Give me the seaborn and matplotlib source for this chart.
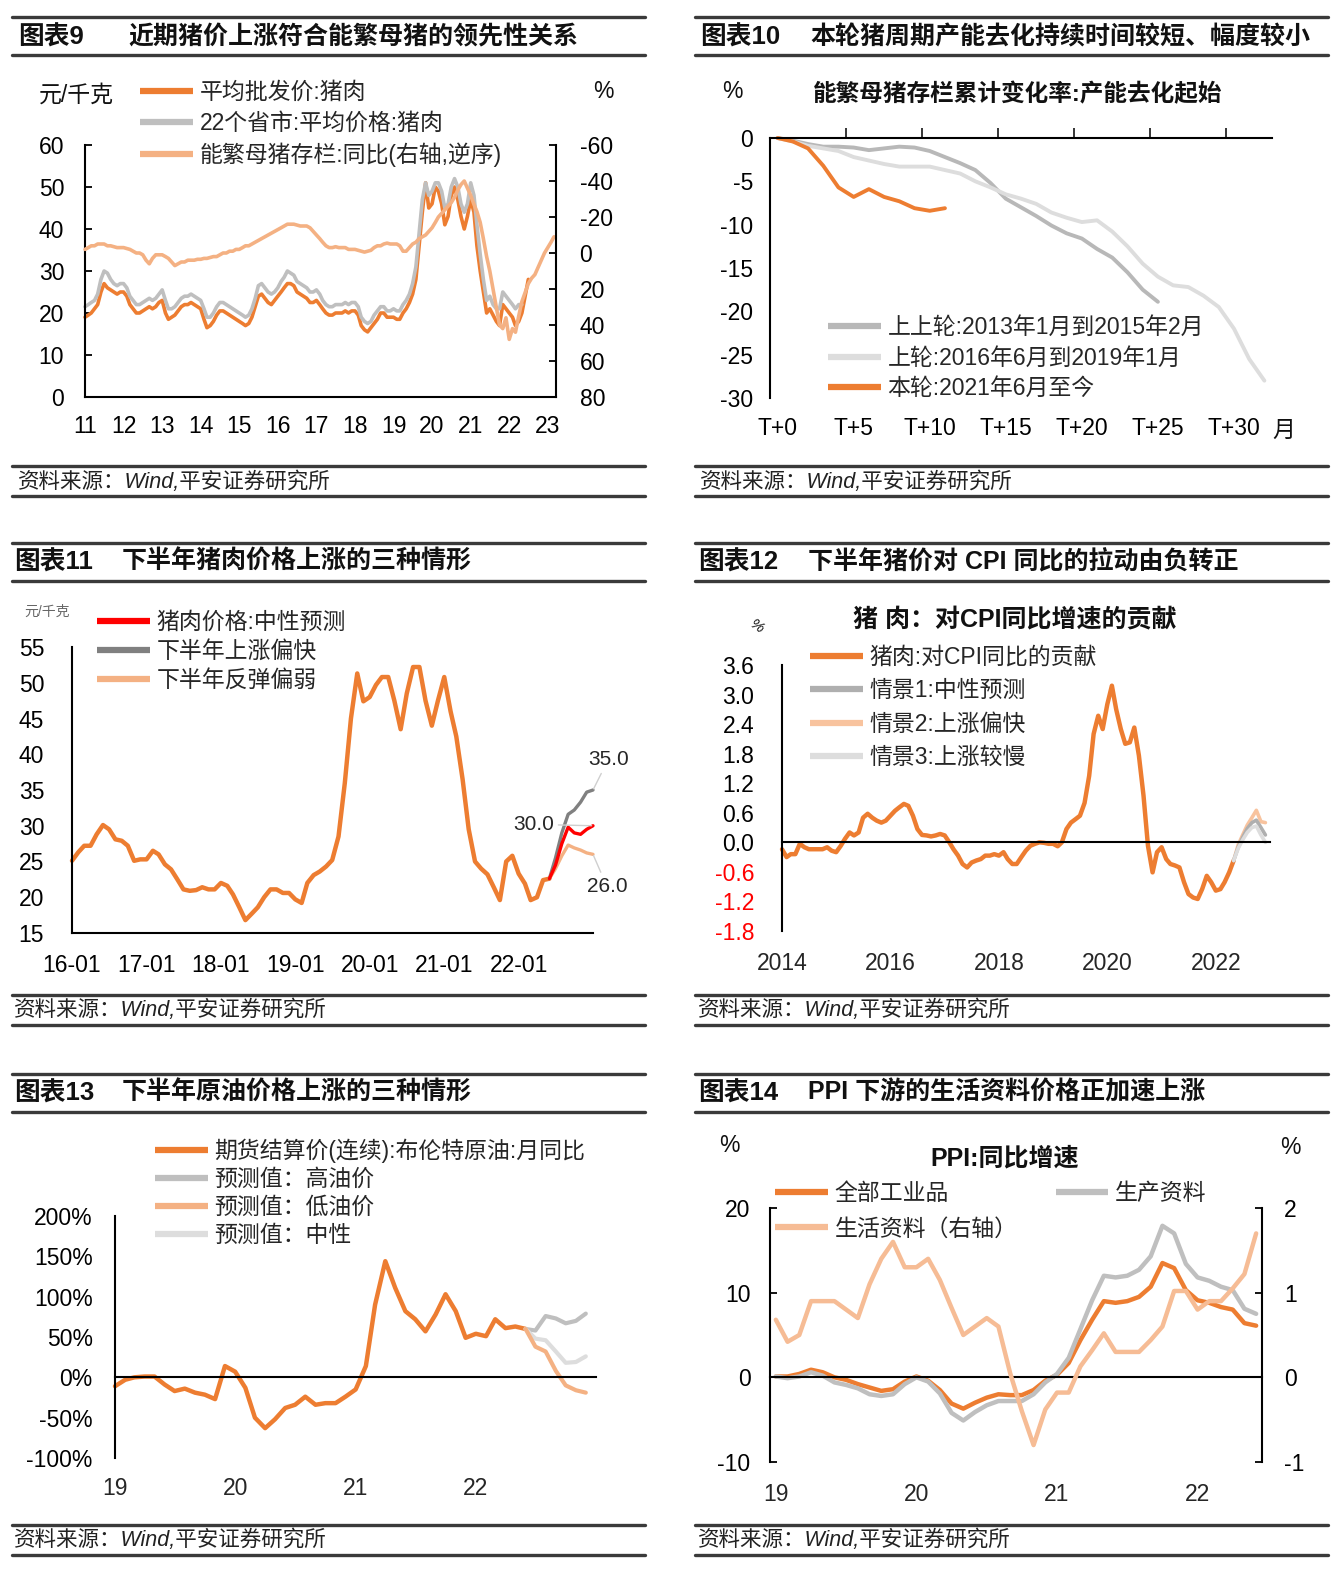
import matplotlib
matplotlib.use('Agg')
import matplotlib.pyplot as plt
import matplotlib.dates as mdates
from matplotlib.lines import Line2D
import numpy as np
import pandas as pd
import seaborn as sns

sns.set_style('white')
plt.rcParams['font.family'] = ['Liberation Sans', 'Noto Sans CJK SC']
plt.rcParams['axes.unicode_minus'] = False

ORANGE = '#ED7D31'
GRAY = '#BFBFBF'
DARK_GRAY = '#808080'
LIGHT_ORANGE = '#F4B183'
LIGHT_GRAY = '#DDDDDD'

# ---- chart 9: pork price vs sow inventory (monthly) ----
pork_wholesale = [  # 2011-01 .. 2022-07, yuan/kg
    19, 19.5, 20, 21, 22, 25, 27, 26, 25.5, 25, 24.5, 25,
    25, 24, 22, 21, 20, 20, 20.5, 21, 21.5, 21, 21.5, 22.5,
    23, 20, 18.5, 19, 19.5, 20.5, 21.5, 22, 22, 22.5, 22, 21.5,
    21, 18.5, 16.5, 17, 18, 19.5, 20.5, 20.5, 20, 19.5, 19, 18.5,
    18, 17.5, 17, 17.5, 19, 21.5, 24, 24.5, 23.5, 22.5, 22, 23,
    24, 25, 26, 27, 27, 26.5, 25, 24.5, 24, 23.5, 22.5, 22.5,
    23, 22, 21, 20, 19.5, 19.5, 20, 20, 20, 20.5, 20, 20.5,
    20.5, 19.5, 17, 16, 15.5, 16.5, 17.5, 18.5, 20, 20, 19, 19,
    19, 18.5, 18.5, 20, 21, 22.5, 24.5, 28, 36, 44, 51, 45,
    46, 50, 49, 46, 41, 43, 48, 50, 47, 43, 40, 43,
    47, 44, 36, 30, 25, 20, 21, 19.5, 18, 17, 22, 21,
    20, 19, 17, 18, 20, 24, 28]
pork_22_prov = [  # 2011-01 .. 2022-05
    21.5, 22, 22.5, 23, 24.5, 28, 30, 29.5, 28, 27, 26.5, 27,
    27, 26, 24, 23, 22, 22, 22.5, 23, 23.5, 23, 23.5, 24.5,
    25.5, 23, 21, 21, 21.5, 22.5, 23.5, 24, 24, 24.5, 24, 23.5,
    23, 21, 19, 19, 20, 21.5, 22.5, 22.5, 22, 21.5, 21, 20.5,
    20, 19.5, 19, 19.5, 21, 23.5, 26.5, 27, 26, 25, 24.5, 25,
    26, 27.5, 28.5, 30, 29.5, 29, 27.5, 27, 26.5, 26, 25, 25,
    25.5, 24.5, 23, 22, 21.5, 21.5, 22, 22, 22, 22.5, 22, 22.5,
    22.5, 21.5, 19, 18, 17.5, 18, 19.5, 20.5, 21.5, 21.5, 20.5, 20.5,
    21, 20.5, 20.5, 22, 23, 24.5, 27, 31, 39, 47, 51, 48,
    49, 51, 51, 49, 45, 46, 50, 52, 50, 46, 44, 46,
    51, 48, 41, 34, 28, 23, 24, 22, 21, 21, 25, 24,
    23, 22, 21, 22, 22]
sow_yoy = [  # 2011-01 .. 2023-03, %, right axis (inverted)
    -2, -3, -4, -4, -5, -5, -5, -4, -4, -3.5, -3, -3,
    -3, -2.5, -2, -1, 0, 0, 1, 4, 6, 3, 1, 1,
    1, 2, 3, 5, 7, 6, 5, 5, 4, 4, 4, 3.5,
    3.5, 3, 3, 2.5, 2, 2, 1, 0, 0, -1, -1, -2,
    -2, -3, -4, -4, -5, -6, -7, -8, -9, -10, -11, -12,
    -13, -14, -15, -16, -16, -16, -15.5, -15, -15, -15, -14, -12,
    -10, -8, -6, -4, -3, -3, -3.5, -3, -3, -3, -2, -2,
    -2, -1.5, -1, -0.5, -1, -1.5, -3, -4, -4, -5, -5.5, -5,
    -5, -5, -4, -1, -1, -3, -5, -6, -8, -9, -10, -12,
    -14, -17, -20, -22, -24, -26, -28, -31, -35, -38, -40, -36,
    -32, -27, -23, -17, -8, 2, 10, 20, 30, 40, 42, 36,
    48, 42, 44, 35, 27, 22, 17, 14, 12, 8, 4, 0,
    -3, -6, -9]

# ---- chart 10: cumulative change of sow inventory by cycle ----
round_prev2 = [0, -0.3, -0.7, -1.0, -1.0, -1.1, -1.4, -1.2, -1.0, -1.1, -1.5, -2.2, -2.9,
               -3.7, -5.2, -7.0, -8.0, -9.0, -10.1, -11.0, -11.6, -12.8, -13.8, -15.5,
               -17.5, -18.9]
round_prev1 = [0, -0.4, -0.9, -1.2, -1.5, -2.2, -2.6, -3.0, -3.3, -3.3, -3.3, -3.7, -4.1,
               -5.0, -5.7, -6.5, -7.0, -7.6, -8.6, -9.2, -9.7, -9.5, -10.8, -12.5, -14.5,
               -16.0, -17.0, -17.2, -18.2, -19.5, -22.0, -25.5, -28.0]
round_now = [0, -0.4, -1.2, -3.2, -5.7, -6.8, -5.9, -6.8, -7.3, -8.1, -8.4, -8.1]
t_labels = ['T+0', 'T+5', 'T+10', 'T+15', 'T+20', 'T+25', 'T+30']

# ---- chart 11: pork price scenarios ----
pork_hist = [  # 2016-01 .. 2022-06
    25.1, 26.3, 27.2, 27.2, 28.8, 30.1, 29.5, 28.1, 27.9, 27.2, 25.1, 25.3,
    25.3, 26.5, 26.0, 24.6, 23.9, 22.5, 21.1, 20.9, 21.0, 21.4, 21.1, 21.1,
    22.0, 21.6, 20.4, 18.6, 16.8, 17.7, 18.6, 20.0, 21.1, 21.1, 20.6, 20.6,
    19.7, 19.2, 22.0, 23.1, 23.6, 24.3, 25.2, 28.5, 36.0, 45.0, 51.3, 47.4,
    48.0, 49.7, 50.8, 50.8, 47.5, 43.5, 48.5, 52.2, 52.2, 47.5, 44.0, 47.5,
    50.8, 46.0, 42.5, 36.5, 29.5, 25.0, 24.0, 23.2, 21.4, 19.6, 25.0, 25.8,
    23.3, 21.9, 19.6, 20.0, 22.4, 22.6]
pork_fc_mid = [22.6, 24.5, 27.5, 29.8, 29.0, 28.8, 29.5, 30.0]   # 2022-06 .. 2023-01
pork_fc_fast = [22.6, 25.5, 29.0, 31.6, 32.2, 33.3, 34.7, 35.0]
pork_fc_weak = [22.6, 24.0, 25.8, 27.3, 26.9, 26.6, 26.2, 26.0]

# ---- chart 12: pork contribution to CPI yoy ----
cpi_pork = [  # 2014-01 .. 2022-05, pct pt
    -0.14, -0.3, -0.24, -0.24, -0.03, -0.1, -0.14, -0.14, -0.14, -0.14, -0.1, -0.17,
    -0.2, -0.07, 0.07, 0.2, 0.14, 0.2, 0.5, 0.58, 0.5, 0.44, 0.4, 0.44,
    0.54, 0.64, 0.71, 0.78, 0.74, 0.54, 0.27, 0.15, 0.14, 0.12, 0.14, 0.17,
    0.14, 0.0, -0.14, -0.27, -0.44, -0.51, -0.41, -0.37, -0.34, -0.27, -0.27, -0.24,
    -0.27, -0.2, -0.34, -0.44, -0.44, -0.3, -0.17, -0.07, -0.03, 0.0, -0.01, -0.03,
    -0.03, -0.08, 0.0, 0.27, 0.4, 0.47, 0.54, 0.8, 1.35, 2.2, 2.57, 2.3,
    2.8, 3.18, 2.7, 2.3, 2.0, 2.03, 2.33, 1.76, 0.95, -0.07, -0.61, -0.2,
    -0.1, -0.34, -0.44, -0.47, -0.51, -0.81, -1.05, -1.12, -1.15, -0.95, -0.68, -0.81,
    -0.98, -0.95, -0.81, -0.61, -0.37]
cpi_s1 = [-0.37, -0.1, 0.1, 0.28, 0.4, 0.45, 0.3, 0.15]   # 2022-05 .. 2022-12
cpi_s2 = [-0.37, -0.05, 0.15, 0.35, 0.5, 0.65, 0.42, 0.4]
cpi_s3 = [-0.37, -0.12, 0.05, 0.2, 0.3, 0.33, 0.15, 0.0]
cpi_yticks = [-1.8, -1.2, -0.6, 0.0, 0.6, 1.2, 1.8, 2.4, 3.0, 3.6]

# ---- chart 13: brent yoy ----
brent_yoy = [  # 2019-01 .. 2022-06, %
    -11, -3, 0, 1, 1, -9, -17, -14, -19, -21.5, -27, 14,
    7, -13, -50, -63, -52, -38, -34, -24, -34, -32, -32, -24,
    -15, 14, 90, 144, 111, 82, 72, 57, 78, 103, 82, 49,
    54, 51, 72, 61, 63, 60]
oil_high = [60, 58, 76, 73, 67, 70, 79]   # 2022-06 .. 2022-12
oil_low = [60, 38, 32, 8, -10, -16, -19]
oil_mid = [60, 48, 46, 32, 18, 19, 26]

# ---- chart 14: PPI yoy ----
ppi_all = [  # 2019-01 .. 2022-06
    0.1, 0.1, 0.4, 0.9, 0.6, 0.0, -0.3, -0.8, -1.2, -1.6, -1.4, -0.5,
    0.1, -0.4, -1.5, -3.1, -3.7, -3.0, -2.4, -2.0, -2.1, -2.1, -1.5, -0.4,
    0.3, 1.7, 4.4, 6.8, 9.0, 8.8, 9.0, 9.5, 10.7, 13.5, 12.9, 10.3,
    9.1, 8.8, 8.3, 8.0, 6.4, 6.1]
ppi_prod = [
    0.1, -0.1, 0.1, 0.6, 0.2, -0.6, -0.9, -1.3, -2.0, -2.2, -2.0, -0.8,
    0.0, -0.5, -1.9, -4.2, -5.1, -4.1, -3.3, -2.8, -2.8, -2.8, -2.0, -0.6,
    0.4, 2.3, 5.7, 9.1, 12.0, 11.8, 12.0, 12.7, 14.3, 17.9, 17.0, 13.4,
    11.8, 11.4, 10.7, 10.3, 8.1, 7.5]
ppi_life = [
    0.68, 0.42, 0.5, 0.9, 0.9, 0.9, 0.8, 0.7, 1.1, 1.4, 1.6, 1.3,
    1.3, 1.4, 1.15, 0.82, 0.5, 0.6, 0.7, 0.6, 0.05, -0.4, -0.8, -0.38,
    -0.18, -0.18, 0.13, 0.32, 0.52, 0.3, 0.3, 0.3, 0.44, 0.6, 1.02, 1.02,
    0.8, 0.9, 0.9, 1.05, 1.22, 1.7]
year_labels_14 = ['19', '20', '21', '22']

SOURCE = '资料来源：Wind,平安证券研究所'

W, H = 1334, 1572
fig = plt.figure(figsize=(W / 100, H / 100), dpi=100)
FS = 16.5


def rect(l, t, r, b):
    return [l / W, 1 - b / H, (r - l) / W, (b - t) / H]


def ftext(x, y, s, **kw):
    kw.setdefault('va', 'center')
    kw.setdefault('ha', 'left')
    kw.setdefault('color', '#111111')
    fig.text(x / W, 1 - y / H, s, **kw)


def hline(x0, x1, y, lw=2.4, color='#3a3a3a'):
    fig.add_artist(Line2D([x0 / W, x1 / W], [1 - y / H, 1 - y / H],
                          transform=fig.transFigure, lw=lw, color=color))


def style(ax, ypad=14, xpad=10):
    for s in ax.spines.values():
        s.set_linewidth(1.5)
        s.set_color('black')
    ax.spines['top'].set_visible(False)
    ax.spines['right'].set_visible(False)
    ax.tick_params(direction='in', length=5, width=1.3, colors='black', labelsize=FS)
    ax.tick_params(axis='y', pad=ypad)
    ax.tick_params(axis='x', pad=xpad)
    ax.set_xlabel('')
    ax.set_ylabel('')
    ax.patch.set_alpha(0)


def legend(ax, lines, x, y, spacing=0.2, ncol=1, colsp=1.0):
    leg = ax.legend(handles=lines, loc='upper left', bbox_to_anchor=(x / W, 1 - y / H),
                    bbox_transform=fig.transFigure, frameon=False, borderpad=0,
                    borderaxespad=0, handlelength=2.3, handletextpad=0.3,
                    labelspacing=spacing, fontsize=FS, ncol=ncol, columnspacing=colsp)
    for h in leg.get_lines():
        h.set_linewidth(4.5)
        h.set_solid_capstyle('butt')
    return leg


def line(ax, x, y, color, label, lw=2.8):
    sns.lineplot(x=x, y=y, ax=ax, color=color, lw=lw, label=label, legend=False,
                 clip_on=False)
    return ax.lines[-1]


# ---- headers / sources ----
for x0, x1 in [(12, 645), (695, 1328)]:
    for top, bot in [(17, 55), (543, 581), (1074, 1112)]:
        hline(x0, x1, top)
        hline(x0, x1, bot)
    for top, bot in [(466, 496), (995, 1025), (1525, 1555)]:
        hline(x0, x1, top)
        hline(x0, x1, bot)

headers = [
    (18, 128, 37, '图表9', '近期猪价上涨符合能繁母猪的领先性关系'),
    (700, 810, 37, '图表10', '本轮猪周期产能去化持续时间较短、幅度较小'),
    (14, 122, 562, '图表11', '下半年猪肉价格上涨的三种情形'),
    (698, 808, 562, '图表12', '下半年猪价对 CPI 同比的拉动由负转正'),
    (14, 122, 1093, '图表13', '下半年原油价格上涨的三种情形'),
    (698, 808, 1093, '图表14', 'PPI 下游的生活资料价格正加速上涨'),
]
for xt, xs, y, tag, title in headers:
    ftext(xt, y, tag, fontsize=18.5, fontweight='bold')
    ftext(xs, y, title, fontsize=18, fontweight='bold')
for x, y in [(18, 482), (700, 482), (14, 1010), (698, 1010), (14, 1540), (698, 1540)]:
    ftext(x, y, SOURCE, fontsize=15.5, color='#222222', style='italic')

# ---- chart 9 ----
ax9 = fig.add_axes(rect(85, 145, 556, 397))
d_whole = pd.date_range('2011-01-01', periods=len(pork_wholesale), freq='MS')
d_prov = pd.date_range('2011-01-01', periods=len(pork_22_prov), freq='MS')
d_sow = pd.date_range('2011-01-01', periods=len(sow_yoy), freq='MS')
l1 = line(ax9, d_whole, pork_wholesale, ORANGE, '平均批发价:猪肉', lw=2.6)
l2 = line(ax9, d_prov, pork_22_prov, GRAY, '22个省市:平均价格:猪肉', lw=2.6)
ax9b = ax9.twinx()
l3 = line(ax9b, d_sow, sow_yoy, LIGHT_ORANGE, '能繁母猪存栏:同比(右轴,逆序)', lw=2.6)
style(ax9, ypad=15, xpad=13)
style(ax9b, ypad=17)
ax9b.spines['right'].set_visible(True)
ax9b.spines['left'].set_visible(False)
ax9b.spines['bottom'].set_visible(False)
ax9.set_ylim(0, 60)
ax9.set_yticks(range(0, 61, 10))
ax9b.set_ylim(80, -60)
ax9b.set_yticks(range(-60, 81, 20))
yrs9 = pd.date_range('2011-01-01', '2023-01-01', freq='YS')
ax9.set_xticks(yrs9)
ax9.set_xticklabels([f'{d.year % 100}' for d in yrs9])
ax9.set_xlim(pd.Timestamp('2011-01-01'), pd.Timestamp('2023-03-20'))
legend(ax9, [l1, l2, l3], 140, 81, spacing=0.33)
ftext(76, 95, '元/千克', fontsize=FS, ha='center')
ftext(603, 92, '%', fontsize=FS, ha='center')

# ---- chart 10 ----
ax10 = fig.add_axes(rect(770, 138, 1272, 398))
m1 = line(ax10, np.arange(len(round_prev2)), round_prev2, '#B8B8B8', '上上轮:2013年1月到2015年2月')
m2 = line(ax10, np.arange(len(round_prev1)), round_prev1, LIGHT_GRAY, '上轮:2016年6月到2019年1月')
m3 = line(ax10, np.arange(len(round_now)), round_now, ORANGE, '本轮:2021年6月至今')
style(ax10, ypad=12, xpad=14)
ax10.spines['top'].set_visible(True)
ax10.spines['bottom'].set_visible(False)
ax10.set_ylim(-30, 0)
ax10.set_yticks(range(-30, 1, 5))
ax10.set_xlim(-0.5, 32.5)
ax10.set_xticks(range(0, 31, 5))
ax10.set_xticklabels(t_labels)
ax10.set_xticks(np.arange(4.5, 30, 5), minor=True)
ax10.tick_params(axis='x', which='major', length=0)
ax10.tick_params(axis='x', which='minor', bottom=False, top=True, direction='out',
                 length=7, width=1.3)
legend(ax10, [m1, m2, m3], 828, 316, spacing=0.33)
ftext(1284, 430, '月', fontsize=FS, ha='center')
ftext(732, 92, '%', fontsize=FS, ha='center')
ftext(1018, 95, '能繁母猪存栏累计变化率:产能去化起始', fontsize=17, fontweight='bold', ha='center')

# ---- chart 11 ----
ax11 = fig.add_axes(rect(72, 647, 593, 933))
d_hist = pd.date_range('2016-01-01', periods=len(pork_hist), freq='MS')
d_fc = pd.date_range('2022-06-01', periods=len(pork_fc_mid), freq='MS')
line(ax11, d_hist, pork_hist, ORANGE, '_hist', lw=3.2)
n2 = line(ax11, d_fc, pork_fc_fast, DARK_GRAY, '下半年上涨偏快', lw=2.4)
n3 = line(ax11, d_fc, pork_fc_weak, LIGHT_ORANGE, '下半年反弹偏弱', lw=2.4)
n1 = line(ax11, d_fc, pork_fc_mid, '#FF0000', '猪肉价格:中性预测', lw=2.4)
style(ax11, ypad=20, xpad=15)
ax11.set_ylim(15, 55)
ax11.set_yticks(range(15, 56, 5))
yrs11 = pd.date_range('2016-01-01', '2023-01-01', freq='YS')
ax11.set_xticks(yrs11)
ax11.set_xticklabels([d.strftime('%y-%m') for d in yrs11[:-1]] + [''])
ax11.set_xlim(pd.Timestamp('2016-01-01'), pd.Timestamp('2023-01-01'))
legend(ax11, [n1, n2, n3], 97, 611, spacing=0.27)
ftext(47, 612, '元/千克', fontsize=10, ha='center', color='#666666')
lead = dict(arrowstyle='-', color='#CFCFCF', lw=1.0, shrinkA=1, shrinkB=1)
ax11.annotate(f'{pork_fc_fast[-1]:.1f}', xy=(d_fc[-1], pork_fc_fast[-1]), xytext=(11, 22),
              textcoords='offset points', ha='center', va='center', fontsize=15, arrowprops=lead)
ax11.annotate(f'{pork_fc_mid[-1]:.1f}', xy=(d_fc[-1], pork_fc_mid[-1]), xytext=(-43, 1),
              textcoords='offset points', ha='center', va='center', fontsize=15, arrowprops=lead)
ax11.annotate(f'{pork_fc_weak[-1]:.1f}', xy=(d_fc[-1], pork_fc_weak[-1]), xytext=(10, -23),
              textcoords='offset points', ha='center', va='center', fontsize=15, arrowprops=lead)

# ---- chart 12 ----
ax12 = fig.add_axes(rect(782, 665, 1270, 931))
d_cpi = pd.date_range('2014-01-01', periods=len(cpi_pork), freq='MS')
d_scn = pd.date_range('2022-05-01', periods=len(cpi_s1), freq='MS')
p1 = line(ax12, d_cpi, cpi_pork, ORANGE, '猪肉:对CPI同比的贡献', lw=3.2)
p3 = line(ax12, d_scn, cpi_s2, '#F8C39E', '情景2:上涨偏快', lw=2.6)
p2 = line(ax12, d_scn, cpi_s1, '#AFAFAF', '情景1:中性预测', lw=2.6)
p4 = line(ax12, d_scn, cpi_s3, LIGHT_GRAY, '情景3:上涨较慢', lw=2.6)
style(ax12, ypad=20, xpad=12)
ax12.set_ylim(-1.8, 3.6)
ax12.set_yticks(cpi_yticks)
ax12.set_yticklabels([f'{v:.1f}' for v in cpi_yticks])
for lbl, v in zip(ax12.get_yticklabels(), cpi_yticks):
    if v < 0:
        lbl.set_color('#FF0000')
ax12.set_xlim(pd.Timestamp('2014-01-01'), pd.Timestamp('2023-01-01'))
ax12.spines['bottom'].set_position(('data', 0))
ax12.set_xticks(pd.date_range('2016-01-01', '2022-01-01', freq='2YS'))
ax12.tick_params(axis='x', labelbottom=False, length=7)
yrs12 = pd.date_range('2014-01-01', '2022-01-01', freq='2YS')
sec12 = ax12.secondary_xaxis('bottom')
sec12.set_xticks(mdates.date2num(yrs12), labels=[str(d.year) for d in yrs12])
sec12.tick_params(length=0, pad=15, labelsize=FS)
sec12.spines['bottom'].set_visible(False)
legend(ax12, [p1, p2, p3, p4], 810, 646, spacing=0.45)
ftext(1015, 620, '猪 肉：对CPI同比增速的贡献', fontsize=18, fontweight='bold', ha='center')
ftext(757, 627, '%', fontsize=11, ha='center', rotation=-35, style='italic')

# ---- chart 13 ----
ax13 = fig.add_axes(rect(115, 1216, 596, 1458))
d_oil = pd.date_range('2019-01-01', periods=len(brent_yoy), freq='MS')
d_ofc = pd.date_range('2022-06-01', periods=len(oil_high), freq='MS')
o1 = line(ax13, d_oil, brent_yoy, ORANGE, '期货结算价(连续):布伦特原油:月同比', lw=3.2)
o2 = line(ax13, d_ofc, oil_high, GRAY, '预测值：高油价', lw=3.0)
o4 = line(ax13, d_ofc, oil_mid, LIGHT_GRAY, '预测值：中性', lw=3.0)
o3 = line(ax13, d_ofc, oil_low, LIGHT_ORANGE, '预测值：低油价', lw=3.0)
style(ax13, ypad=16, xpad=11)
ax13.set_ylim(-100, 200)
ax13.set_yticks(range(-100, 201, 50))
ax13.set_yticklabels([f'{v}%' for v in range(-100, 201, 50)])
ax13.set_xlim(pd.Timestamp('2019-01-01'), pd.Timestamp('2023-01-01'))
ax13.spines['bottom'].set_position(('data', 0))
ax13.set_xticks(pd.date_range('2020-01-01', '2023-01-01', freq='YS'))
ax13.tick_params(axis='x', labelbottom=False, length=7)
yrs13 = pd.date_range('2019-01-01', '2022-01-01', freq='YS')
sec13 = ax13.secondary_xaxis('bottom')
sec13.set_xticks(mdates.date2num(yrs13), labels=[f'{d.year % 100}' for d in yrs13])
sec13.tick_params(length=0, pad=14, labelsize=FS)
sec13.spines['bottom'].set_visible(False)
legend(ax13, [o1, o2, o3, o4], 155, 1139, spacing=0.21)

# ---- chart 14 ----
ax14 = fig.add_axes(rect(770, 1208, 1262, 1462))
k14 = np.arange(len(ppi_all))
q1 = line(ax14, k14, ppi_all, ORANGE, '全部工业品', lw=3.2)
q2 = line(ax14, k14, ppi_prod, GRAY, '生产资料', lw=3.2)
ax14b = ax14.twinx()
q3 = line(ax14b, k14, ppi_life, '#F6BC95', '生活资料（右轴）', lw=3.2)
style(ax14, ypad=14, xpad=12)
style(ax14b, ypad=16)
ax14b.spines['right'].set_visible(True)
ax14b.spines['left'].set_visible(False)
ax14b.spines['bottom'].set_visible(False)
ax14.set_ylim(-10, 20)
ax14.set_yticks([-10, 0, 10, 20])
ax14b.set_ylim(-1, 2)
ax14b.set_yticks([-1, 0, 1, 2])
ax14.set_xlim(-0.5, 41.5)
ax14.spines['bottom'].set_position(('data', 0))
ax14.set_xticks([11.5, 23.5, 35.5])
ax14.tick_params(axis='x', labelbottom=False, length=7)
sec14 = ax14.secondary_xaxis('bottom')
sec14.set_xticks([0, 12, 24, 36], labels=year_labels_14)
sec14.tick_params(length=0, pad=15, labelsize=FS)
sec14.spines['bottom'].set_visible(False)
legend(ax14, [q1, q3, q2], 775, 1182, spacing=0.54, ncol=2, colsp=1.66)
ftext(1005, 1158, 'PPI:同比增速', fontsize=18, fontweight='bold', ha='center')
ftext(729, 1146, '%', fontsize=FS, ha='center')
ftext(1290, 1148, '%', fontsize=FS, ha='center')

fig.savefig('out.png', dpi=100)
